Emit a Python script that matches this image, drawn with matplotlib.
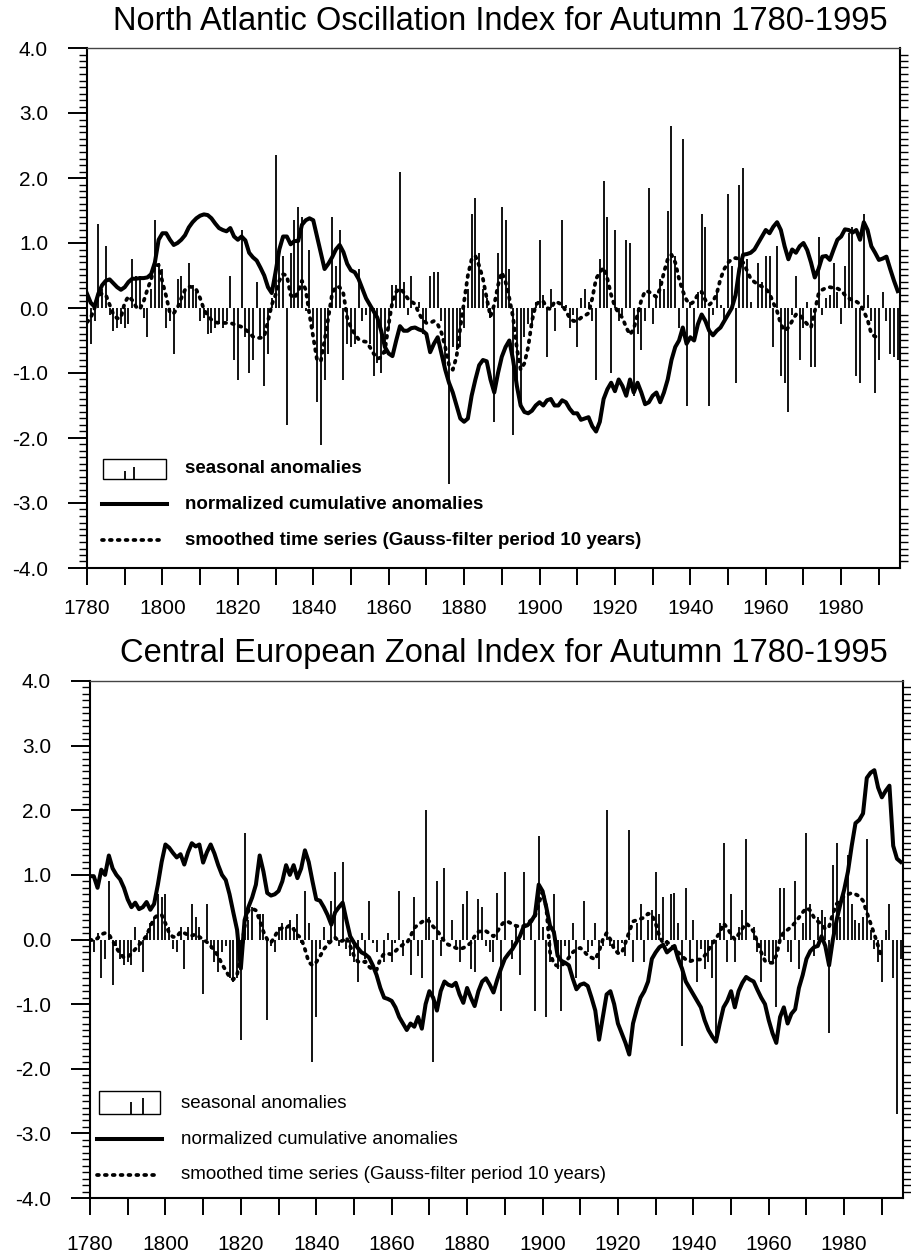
import matplotlib
matplotlib.use("Agg")
import matplotlib.pyplot as plt
from matplotlib.patches import Rectangle
from matplotlib.ticker import MultipleLocator

plt.rcParams["font.family"] = ["Liberation Sans", "DejaVu Sans"]

YEARS = list(range(1780, 1996))
SMOOTH_YEARS = list(range(1780, 1991))

# --- North Atlantic Oscillation, autumn -----------------------------------
nao_anomalies = [
    -0.40, -0.55, -0.20, 1.30, 0.30, 0.95, -0.10, -0.35, -0.30, -0.25,
    -0.30, -0.25, 0.75, 0.50, 0.50, -0.15, -0.45, 0.30, 1.35, 0.70,
    0.60, -0.30, -0.20, -0.70, 0.45, 0.50, 0.30, 0.70, 0.35, 0.25,
    -0.20, -0.15, -0.40, -0.38, -0.30, -0.25, -0.30, -0.20, 0.50, -0.80,
    -1.10, 1.20, -0.45, -1.00, -0.80, 0.40, -0.45, -1.20, -0.70, 0.15,
    2.35, 0.80, 0.80, -1.80, 0.85, 1.35, 1.55, 1.40, -0.05, 0.90,
    -0.30, -1.45, -2.10, -1.10, -0.70, 1.40, 0.65, 1.20, -1.10, -0.55,
    -0.60, -0.55, 0.60, -0.20, -0.10, -0.55, -1.05, -0.85, -1.00, -0.70,
    -0.30, 0.35, 0.35, 2.10, 0.40, -0.10, 0.50, 0.00, 0.10, -0.40,
    -0.20, 0.50, 0.55, 0.55, -0.20, -1.00, -2.70, -0.60, -0.65, -0.60,
    -0.30, 0.30, 1.45, 1.70, 0.85, 0.30, 0.15, -0.15, -1.75, 0.85,
    1.55, 1.35, 0.60, -1.95, -1.15, -1.50, -0.45, -0.25, -0.30, 0.10,
    1.05, 0.20, -0.75, 0.30, -0.35, 0.00, 1.35, 0.05, -0.30, -0.10,
    -0.60, 0.15, 0.30, 0.10, -0.20, -1.10, 0.75, 1.95, 1.40, -1.00,
    1.20, -0.20, -0.10, 1.05, 1.00, -1.35, -0.40, -0.65, -0.20, 1.85,
    -0.25, 0.20, 0.45, 0.30, 1.50, 2.80, 0.80, -0.30, 2.60, -1.50,
    0.10, -0.45, 0.25, 1.45, 1.25, -1.50, -0.10, 0.25, 0.05, -0.20,
    1.75, 0.65, -1.15, 1.90, 2.15, 0.75, 0.10, 0.00, 0.70, 0.40,
    0.80, 0.80, -0.60, 0.95, -1.05, -1.15, -1.60, -0.10, 0.50, -0.80,
    -0.30, 0.10, -0.90, -0.90, 1.10, -0.10, 0.15, 0.20, 0.70, 0.25,
    -0.25, 0.65, 1.15, 1.25, -1.05, -1.15, 1.45, 0.20, -0.20, -1.30,
    -0.80, 0.25, -0.20, -0.70, -0.75, -0.80,
]
nao_cumulative = [
    0.22, 0.08, 0.02, 0.22, 0.35, 0.42, 0.44, 0.38, 0.32, 0.28,
    0.32, 0.40, 0.45, 0.45, 0.46, 0.46, 0.47, 0.52, 0.70, 1.05,
    1.15, 1.15, 1.05, 0.97, 1.00, 1.05, 1.12, 1.24, 1.32, 1.38,
    1.42, 1.44, 1.43, 1.38, 1.30, 1.23, 1.20, 1.18, 1.23, 1.10,
    1.05, 1.10, 1.04, 0.85, 0.78, 0.73, 0.62, 0.50, 0.32, 0.23,
    0.55, 0.90, 1.10, 1.10, 0.98, 1.03, 1.03, 1.28, 1.35, 1.38,
    1.35, 1.10, 0.85, 0.60, 0.68, 0.78, 0.90, 0.97, 0.86, 0.68,
    0.58, 0.55, 0.45, 0.30, 0.15, 0.05, -0.05, -0.15, -0.35, -0.60,
    -0.70, -0.74, -0.50, -0.28, -0.35, -0.35, -0.31, -0.30, -0.33, -0.35,
    -0.40, -0.68, -0.55, -0.45, -0.70, -0.95, -1.15, -1.30, -1.50, -1.70,
    -1.75, -1.70, -1.35, -1.10, -0.88, -0.80, -0.82, -1.10, -1.30, -1.00,
    -0.75, -0.60, -0.50, -0.80, -1.20, -1.50, -1.60, -1.62, -1.58, -1.50,
    -1.45, -1.50, -1.42, -1.40, -1.50, -1.50, -1.42, -1.45, -1.55, -1.62,
    -1.62, -1.72, -1.70, -1.68, -1.82, -1.90, -1.75, -1.40, -1.25, -1.15,
    -1.28, -1.10, -1.20, -1.35, -1.10, -1.30, -1.15, -1.30, -1.48, -1.45,
    -1.35, -1.30, -1.45, -1.30, -1.10, -0.80, -0.60, -0.50, -0.30, -0.55,
    -0.45, -0.50, -0.25, -0.10, -0.20, -0.35, -0.42, -0.35, -0.30, -0.20,
    -0.10, 0.00, 0.20, 0.60, 0.82, 0.83, 0.85, 0.90, 1.00, 1.10,
    1.20, 1.15, 1.25, 1.32, 1.20, 0.95, 0.75, 0.90, 0.85, 0.95,
    1.00, 0.89, 0.70, 0.47, 0.60, 0.79, 0.80, 0.74, 0.90, 1.05,
    1.10, 1.21, 1.20, 1.16, 1.20, 1.05, 1.32, 1.20, 0.95, 0.85,
    0.74, 0.76, 0.79, 0.60, 0.42, 0.26,
]
nao_smoothed = [
    -0.22, -0.15, 0.00, 0.20, 0.22, 0.20, 0.05, -0.10, -0.16, -0.15,
    0.08, 0.18, 0.12, 0.02, -0.02, 0.10, 0.28, 0.44, 0.66, 0.66,
    0.40, 0.18, -0.08, -0.08, 0.00, 0.15, 0.28, 0.33, 0.32, 0.28,
    0.15, -0.02, -0.12, -0.18, -0.22, -0.23, -0.23, -0.23, -0.23, -0.25,
    -0.27, -0.29, -0.33, -0.38, -0.44, -0.46, -0.46, -0.44, -0.20, 0.05,
    0.20, 0.42, 0.52, 0.50, 0.20, 0.15, 0.25, 0.42, 0.28, -0.10,
    -0.45, -0.80, -0.82, -0.50, -0.15, 0.22, 0.33, 0.32, 0.22, -0.15,
    -0.30, -0.40, -0.48, -0.51, -0.52, -0.60, -0.70, -0.78, -0.76, -0.65,
    -0.25, 0.10, 0.25, 0.30, 0.24, 0.15, 0.10, 0.06, -0.08, -0.18,
    -0.23, -0.23, -0.20, -0.25, -0.38, -0.60, -0.88, -0.95, -0.75, -0.30,
    0.10, 0.50, 0.75, 0.80, 0.65, 0.45, 0.15, -0.13, 0.05, 0.35,
    0.55, 0.40, 0.15, -0.15, -0.62, -0.95, -0.85, -0.60, -0.20, 0.05,
    0.10, 0.10, 0.00, -0.02, 0.10, 0.08, 0.05, -0.05, -0.15, -0.20,
    -0.20, -0.15, -0.12, -0.08, 0.15, 0.45, 0.55, 0.62, 0.45, 0.20,
    0.02, -0.08, -0.15, -0.30, -0.41, -0.32, -0.10, 0.12, 0.26, 0.25,
    0.21, 0.17, 0.30, 0.55, 0.75, 0.82, 0.70, 0.45, 0.26, 0.12,
    0.06, 0.10, 0.21, 0.25, 0.12, 0.05, 0.10, 0.22, 0.45, 0.60,
    0.70, 0.75, 0.77, 0.75, 0.70, 0.58, 0.45, 0.40, 0.36, 0.33,
    0.30, 0.22, 0.08, -0.05, -0.25, -0.35, -0.30, -0.20, -0.10, -0.10,
    -0.18, -0.25, -0.30, -0.05, 0.22, 0.28, 0.31, 0.32, 0.31, 0.30,
    0.27, 0.20, 0.15, 0.12, 0.10, 0.06, -0.05, -0.18, -0.40, -0.44,
    -0.44,
]

# --- Central European Zonal Index, autumn ---------------------------------
cez_anomalies = [
    -0.40, -0.20, 0.10, -0.60, -0.30, 0.90, -0.70, -0.10, -0.30, -0.40,
    -0.35, -0.40, 0.20, -0.20, -0.50, 0.10, 0.25, 0.35, 0.70, 0.65,
    0.70, 0.20, -0.15, -0.20, 0.20, -0.45, 0.20, 0.55, 0.35, 0.20,
    -0.85, 0.55, -0.15, -0.35, -0.50, -0.20, -0.10, -0.60, -0.65, -0.60,
    -1.55, 1.65, 0.30, 0.50, 0.00, 0.40, 0.40, -1.25, -0.10, -0.20,
    0.20, 0.25, 0.20, 0.30, 0.20, 0.40, -0.05, 0.75, 0.25, -1.90,
    -1.20, -0.15, 0.20, -0.05, 0.60, 1.05, -0.10, 1.20, -0.15, -0.25,
    -0.35, -0.65, 0.10, -0.30, 0.60, -0.05, -0.20, 0.00, -0.35, 0.10,
    -0.35, -0.05, 0.75, -0.25, 0.00, -0.55, 0.65, -0.25, -0.60, 2.00,
    0.35, -1.90, 0.90, -0.25, 1.10, 0.00, 0.30, -0.10, -0.35, 0.55,
    0.75, -0.45, -0.50, 0.62, 0.50, -0.10, -0.20, -0.35, 0.72, -1.10,
    1.05, 0.00, -0.30, 0.20, -0.55, 1.05, 0.00, 0.25, -1.10, 1.60,
    0.20, -1.20, -0.35, 0.70, -0.45, -1.10, -0.10, -0.25, 0.25, -0.60,
    0.00, 0.60, -0.20, -0.10, 0.25, -0.45, -0.10, 2.00, -0.10, -0.10,
    -0.20, -0.05, -0.25, 1.70, -0.35, 0.25, 0.55, -0.35, 0.30, 0.45,
    1.05, 0.40, 0.65, -0.10, 0.70, 0.72, 0.25, -1.65, 0.80, -0.35,
    0.30, -0.65, -0.15, -0.45, -0.35, -0.60, -1.50, 0.25, 1.50, -0.35,
    0.70, -0.35, 0.20, 0.45, 1.55, 0.00, 0.20, -0.20, -0.65, -0.25,
    -0.35, -0.35, -1.05, 0.80, 0.80, -0.20, -0.35, 0.90, -0.45, 0.25,
    1.65, 0.55, -0.25, 0.35, 0.45, 0.35, -1.45, 1.15, 1.50, 0.35,
    0.75, 1.30, 0.55, 0.30, 0.25, 0.35, 1.55, 0.15, -0.15, -0.35,
    -0.65, 0.15, 0.55, -0.60, -2.70, -0.30,
]
cez_cumulative = [
    0.98, 0.98, 0.80, 1.08, 1.00, 1.30, 1.10, 1.00, 0.93, 0.80,
    0.62, 0.50, 0.57, 0.47, 0.50, 0.58, 0.46, 0.55, 0.85, 1.20,
    1.47, 1.42, 1.34, 1.27, 1.32, 1.16, 1.35, 1.49, 1.44, 1.47,
    1.19, 1.35, 1.47, 1.33, 1.15, 1.00, 0.92, 0.70, 0.42, 0.15,
    -0.45, 0.30, 0.50, 0.65, 0.85, 1.30, 1.05, 0.72, 0.68, 0.70,
    0.75, 0.90, 1.15, 1.00, 1.15, 0.95, 1.10, 1.38, 1.20, 0.90,
    0.62, 0.60, 0.50, 0.38, 0.23, 0.42, 0.50, 0.57, 0.30, 0.05,
    -0.05, -0.13, -0.20, -0.23, -0.28, -0.40, -0.55, -0.75, -0.90, -0.92,
    -0.95, -1.05, -1.20, -1.30, -1.40, -1.30, -1.35, -1.20, -1.38, -1.00,
    -0.80, -0.90, -1.10, -0.80, -0.65, -0.70, -0.72, -0.67, -0.85, -0.98,
    -0.75, -0.90, -1.03, -0.80, -0.65, -0.60, -0.70, -0.82, -0.62, -0.45,
    -0.30, -0.22, -0.15, -0.05, 0.05, 0.20, 0.22, 0.28, 0.38, 0.85,
    0.75, 0.50, 0.21, 0.12, -0.25, -0.33, -0.36, -0.40, -0.60, -0.77,
    -0.70, -0.68, -0.72, -0.90, -1.10, -1.55, -1.20, -0.85, -0.80, -1.00,
    -1.30, -1.45, -1.60, -1.78, -1.30, -1.08, -0.90, -0.80, -0.65, -0.30,
    -0.20, -0.12, -0.08, -0.20, -0.15, -0.10, -0.30, -0.45, -0.65, -0.75,
    -0.85, -0.95, -1.05, -1.25, -1.40, -1.50, -1.58, -1.30, -1.05, -0.95,
    -0.80, -1.05, -0.80, -0.67, -0.58, -0.62, -0.65, -0.78, -0.90, -1.00,
    -1.25, -1.45, -1.60, -1.20, -1.05, -1.30, -1.15, -1.08, -0.75, -0.55,
    -0.30, -0.18, -0.12, -0.10, 0.05, -0.10, -0.40, 0.00, 0.30, 0.55,
    0.77, 1.05, 1.45, 1.80, 1.85, 1.95, 2.50, 2.58, 2.62, 2.35,
    2.20, 2.30, 2.38, 1.45, 1.25, 1.20,
]
cez_smoothed = [
    0.00, -0.02, 0.02, 0.08, 0.10, 0.08, -0.02, -0.13, -0.22, -0.28,
    -0.27, -0.22, -0.15, -0.08, -0.02, 0.06, 0.20, 0.33, 0.38, 0.38,
    0.25, 0.10, 0.04, 0.04, 0.12, 0.10, 0.07, 0.06, 0.08, 0.04,
    0.00, -0.04, -0.10, -0.17, -0.26, -0.38, -0.48, -0.58, -0.62, -0.55,
    -0.25, 0.20, 0.45, 0.48, 0.45, 0.30, 0.12, 0.00, -0.05, 0.05,
    0.15, 0.18, 0.18, 0.22, 0.16, 0.07, 0.02, -0.15, -0.35, -0.40,
    -0.35, -0.26, -0.15, -0.08, -0.02, 0.03, -0.03, -0.02, 0.03, -0.10,
    -0.25, -0.34, -0.36, -0.34, -0.42, -0.47, -0.47, -0.30, -0.22, -0.22,
    -0.23, -0.18, -0.12, -0.08, -0.06, 0.05, 0.18, 0.23, 0.27, 0.31,
    0.28, 0.20, 0.14, 0.06, -0.03, -0.08, -0.10, -0.13, -0.15, -0.13,
    -0.10, -0.05, 0.05, 0.12, 0.13, 0.13, 0.09, 0.05, 0.12, 0.22,
    0.28, 0.27, 0.24, 0.21, 0.20, 0.21, 0.25, 0.30, 0.36, 0.55,
    0.75, 0.50, -0.20, -0.38, -0.41, -0.41, -0.35, -0.28, -0.20, -0.15,
    -0.13, -0.18, -0.25, -0.28, -0.31, -0.18, 0.00, 0.10, 0.00, -0.15,
    -0.21, -0.21, -0.05, 0.12, 0.28, 0.30, 0.32, 0.34, 0.40, 0.38,
    0.25, 0.05, -0.06, -0.04, -0.08, -0.14, -0.20, -0.26, -0.31, -0.34,
    -0.32, -0.31, -0.31, -0.25, -0.16, -0.07, 0.02, 0.10, 0.25, 0.18,
    0.08, 0.00, 0.08, 0.17, 0.25, 0.20, 0.12, -0.04, -0.20, -0.33,
    -0.36, -0.36, -0.25, 0.00, 0.12, 0.15, 0.20, 0.26, 0.34, 0.42,
    0.49, 0.45, 0.34, 0.28, 0.24, 0.16, 0.20, 0.40, 0.55, 0.62,
    0.67, 0.70, 0.72, 0.70, 0.67, 0.60, 0.42, 0.25, 0.08, -0.10,
    -0.30,
]

Y_TICKS = [-4, -3, -2, -1, 0, 1, 2, 3, 4]
X_MAJOR = list(range(1780, 1991, 10))
X_LABELED = list(range(1780, 1981, 20))


def draw_panel(fig, rect, title, title_xy, anomalies, cumulative, smoothed, legend):
    ax = fig.add_axes(rect)
    ax.vlines(YEARS, 0, anomalies, colors="black", lw=1.3)
    ax.plot(YEARS, cumulative, color="black", lw=2.9, solid_joinstyle="round")
    ax.plot(SMOOTH_YEARS, smoothed, color="black", lw=2.7,
            linestyle=(0, (0.5, 1.6)), dash_capstyle="round")

    ax.set_xlim(1780, 1995.6)
    ax.set_ylim(-4, 4)
    ax.set_yticks(Y_TICKS)
    ax.set_yticklabels([f"{v:.1f}" for v in Y_TICKS])
    ax.yaxis.set_minor_locator(MultipleLocator(0.1))
    ax.tick_params(axis="y", which="major", direction="out", length=14, width=1.4,
                   labelsize=15, pad=14, left=True, right=False)
    ax.tick_params(axis="y", which="minor", direction="out", length=6, width=1.0,
                   left=True, right=True)
    ax.set_xticks(X_MAJOR)
    ax.set_xticklabels([str(y) if y in X_LABELED else "" for y in X_MAJOR])
    ax.tick_params(axis="x", which="major", direction="out", length=12, width=1.4,
                   labelsize=15, pad=legend["xpad"])
    ax.tick_params(axis="x", which="minor", bottom=False)

    for side in ("left", "bottom", "right"):
        ax.spines[side].set_linewidth(1.5)
    ax.spines["top"].set_linewidth(1.0)
    ax.spines["top"].set_color("#444444")

    # hand-drawn legend in the lower left corner
    bx0, bx1 = legend["box_x"]
    by0, by1 = legend["box_y"]
    ax.add_patch(Rectangle((bx0, by0), bx1 - bx0, by1 - by0, fill=False,
                           lw=1.0, edgecolor="black"))
    ax.vlines(legend["icon_bars"], by0, legend["icon_tops"], colors="black", lw=1.3)
    lx0, lx1 = legend["line_x"]
    ax.plot([lx0, lx1], [legend["rows"][1]] * 2, color="black", lw=2.9)
    ax.plot([lx0, lx1 - 1], [legend["rows"][2]] * 2, color="black", lw=2.7,
            linestyle=(0, (0.5, 1.6)), dash_capstyle="round")
    labels = ["seasonal anomalies", "normalized cumulative anomalies",
              "smoothed time series (Gauss-filter period 10 years)"]
    for lab, yv in zip(labels, legend["rows"]):
        ax.text(legend["text_x"], yv, lab, ha="left", va="center",
                fontsize=legend["size"], fontweight=legend["weight"])

    fig.text(title_xy[0], title_xy[1], title, ha="center", va="center", fontsize=23.5)
    return ax


def main():
    fig = plt.figure(figsize=(9.11, 12.60), dpi=100)

    top_legend = {
        "box_x": (1784.2, 1801.0), "box_y": (-2.63, -2.32),
        "icon_bars": [1790.1, 1792.5], "icon_tops": [-2.50, -2.45],
        "line_x": (1784.0, 1801.2), "rows": [-2.47, -3.02, -3.57],
        "text_x": 1806.0, "size": 13.5, "weight": "bold", "xpad": 10,
    }
    bottom_legend = {
        "box_x": (1782.4, 1798.6), "box_y": (-2.70, -2.35),
        "icon_bars": [1790.9, 1794.1], "icon_tops": [-2.52, -2.45],
        "line_x": (1781.9, 1799.1), "rows": [-2.54, -3.09, -3.64],
        "text_x": 1804.1, "size": 13.5, "weight": "normal", "xpad": 15,
    }

    draw_panel(fig, [87 / 911, 1 - 568 / 1260, 813 / 911, 520 / 1260],
               "North Atlantic Oscillation Index for Autumn 1780-1995",
               (500 / 911, 1 - 22 / 1260),
               nao_anomalies, nao_cumulative, nao_smoothed, top_legend)
    draw_panel(fig, [90 / 911, 1 - 1198 / 1260, 813 / 911, 517 / 1260],
               "Central European Zonal Index for Autumn 1780-1995",
               (504 / 911, 1 - 653 / 1260),
               cez_anomalies, cez_cumulative, cez_smoothed, bottom_legend)

    fig.savefig("out.png", dpi=100)
    plt.close(fig)


if __name__ == "__main__":
    main()
